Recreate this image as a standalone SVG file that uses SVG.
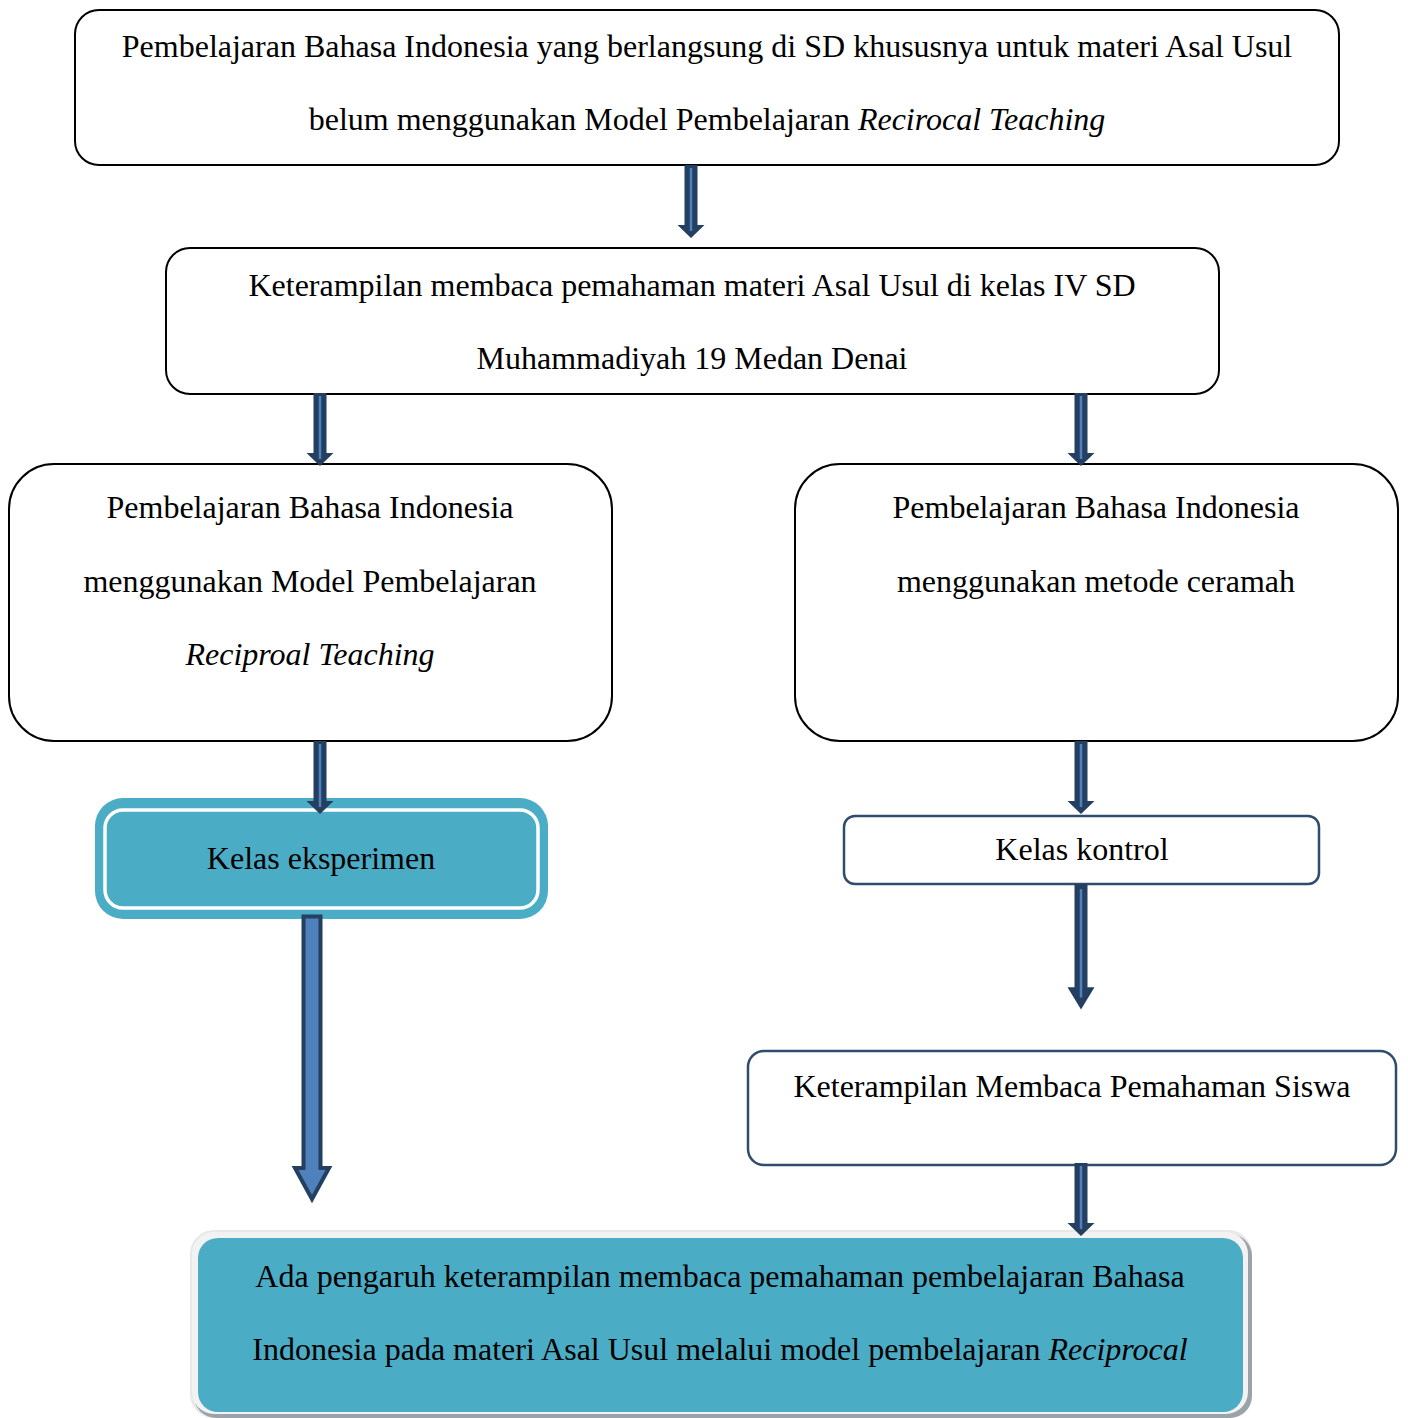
<svg xmlns="http://www.w3.org/2000/svg" width="1408" height="1418" viewBox="0 0 1408 1418">
<defs>
<style>
.box{fill:#fff;stroke:#000;stroke-width:2}
.boxb{fill:#fff;stroke:#2F4B6E;stroke-width:2.5}
.t{font-family:"Liberation Serif","Times New Roman",serif;font-size:32px;fill:#000;text-anchor:middle}
.i{font-style:italic}
.ah{fill:#243F60}
.as{stroke:#4F81BD;stroke-width:2.5;fill:none}
</style>
<g id="sa">
<path class="ah" d="M-6.5,0 H6.5 V60 H13.5 L0,73 L-13.5,60 H-6.5 Z"/>
<line class="as" x1="0" y1="3" x2="0" y2="66"/>
</g>
</defs>
<rect width="1408" height="1418" fill="#fff"/>
<g id="n1">
<rect class="box" x="75" y="10" width="1264" height="155" rx="24"/>
<text class="t" x="707" y="57">Pembelajaran Bahasa Indonesia yang berlangsung di SD khususnya untuk materi Asal Usul</text>
<text class="t" x="707" y="130">belum menggunakan Model Pembelajaran <tspan class="i">Recirocal Teaching</tspan></text>
</g>
<g id="n2">
<rect class="box" x="166" y="248" width="1053" height="146" rx="24"/>
<text class="t" x="692" y="296">Keterampilan membaca pemahaman materi Asal Usul di kelas IV SD</text>
<text class="t" x="692" y="369">Muhammadiyah 19 Medan Denai</text>
</g>
<g id="n3">
<rect class="box" x="9" y="464" width="603" height="277" rx="45"/>
<text class="t" x="310" y="518">Pembelajaran Bahasa Indonesia</text>
<text class="t" x="310" y="592">menggunakan Model Pembelajaran</text>
<text class="t i" x="310" y="665">Reciproal Teaching</text>
</g>
<g id="n4">
<rect class="box" x="795" y="464" width="603" height="277" rx="45"/>
<text class="t" x="1096" y="518">Pembelajaran Bahasa Indonesia</text>
<text class="t" x="1096" y="592">menggunakan metode ceramah</text>
</g>
<g id="n5">
<rect x="95" y="798" width="453" height="121" rx="28" fill="#4BACC6"/>
<rect x="105" y="810" width="433" height="98" rx="18" fill="#4BACC6" stroke="#fff" stroke-width="3.5"/>
<text class="t" x="321" y="869">Kelas eksperimen</text>
</g>
<g id="n6">
<rect class="boxb" x="844" y="816" width="475" height="68" rx="11"/>
<text class="t" x="1082" y="860">Kelas kontrol</text>
</g>
<g id="n7">
<rect class="boxb" x="748" y="1051" width="648" height="114" rx="16"/>
<text class="t" x="1072" y="1097">Keterampilan Membaca Pemahaman Siswa</text>
</g>
<g id="n8">
<rect x="190" y="1230" width="1062" height="188" rx="24" fill="#E8E8E8"/>
<rect x="194" y="1234" width="1058" height="184" rx="22" fill="#9AA3AA"/>
<rect x="192" y="1232" width="1056" height="182" rx="22" fill="#F2F2F2"/>
<rect x="198" y="1238" width="1045" height="174" rx="20" fill="#4BACC6"/>
<text class="t" x="720" y="1287">Ada pengaruh keterampilan membaca pemahaman pembelajaran Bahasa</text>
<text class="t" x="720" y="1360">Indonesia pada materi Asal Usul melalui model pembelajaran <tspan class="i">Reciprocal</tspan></text>
</g>
<g id="connectors">
<use href="#sa" x="691" y="165"/>
<use href="#sa" x="320" y="393"/>
<use href="#sa" x="1081" y="393"/>
<use href="#sa" x="320" y="741"/>
<use href="#sa" x="1081" y="741"/>
<g transform="translate(1081,884) scale(1,1.72)">
<path class="ah" d="M-6.5,0 H6.5 V60 H13.5 L0,73 L-13.5,60 H-6.5 Z"/>
<line class="as" x1="0" y1="3" x2="0" y2="66"/>
</g>
<use href="#sa" x="1081" y="1163"/>
<path d="M303.5,916.5 H320.5 V1168 H329 L312,1199 L295,1168 H303.5 Z" fill="#4F81BD" stroke="#243F60" stroke-width="4" stroke-linejoin="miter"/>
</g>
</svg>
